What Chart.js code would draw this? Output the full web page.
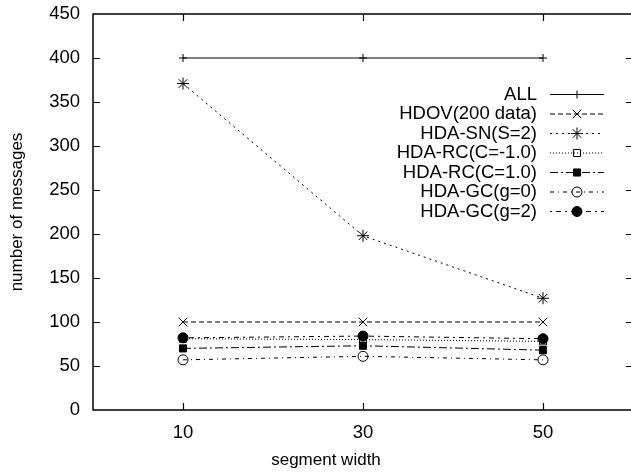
<!DOCTYPE html>
<html lang="en">
<head>
  <meta charset="UTF-8">
  <title>number of messages vs segment width</title>
  <style>
    html, body { margin: 0; padding: 0; background: #fff; overflow: hidden; }
    #wrap { width: 640px; height: 472px; }
  </style>
</head>
<body>
  <div id="wrap"><canvas id="myChart"></canvas></div>
  <script src="https://cdn.jsdelivr.net/npm/chart.js"></script>
  <script>
    // segment widths on the x axis
    const segWidths = [10, 30, 50]
    const xTicks = [10, 30, 50]

    const seriesNames = ['ALL', 'HDOV(200 data)', 'HDA-SN(S=2)', 'HDA-RC(C=-1.0)', 'HDA-RC(C=1.0)', 'HDA-GC(g=0)', 'HDA-GC(g=2)']
    const all = [400, 400, 400]
    const hdov = [100, 100, 100]
    const hdaSn = [371, 198, 127]
    const rcNeg = [81, 80, 78]
    const rcPos = [70, 73, 68]
    const gc0 = [57, 61, 57]
    const gc2 = [82, 84, 81]

    const FONT = '"Liberation Sans", Arial, Helvetica, sans-serif'

    const mk = (label, values, dash, pointStyle, fill, radius) => ({
      label,
      data: values.map((v, i) => ({ x: segWidths[i], y: v })),
      borderColor: '#000',
      borderWidth: 1,
      borderDash: dash,
      pointStyle,
      pointRadius: radius,
      pointBorderWidth: 1,
      pointBorderColor: '#000',
      pointBackgroundColor: fill,
      fill: false,
      tension: 0
    })

    const datasets = [
      mk(seriesNames[0], all, [], 'cross', '#000', 4),
      mk(seriesNames[1], hdov, [5, 3], 'crossRot', '#000', 6),
      mk(seriesNames[2], hdaSn, [2, 4], 'star', '#000', 6),
      mk(seriesNames[3], rcNeg, [1, 2], 'rect', 'rgba(255,255,255,0)', 5),
      mk(seriesNames[4], rcPos, [8, 3, 2, 3], 'rect', '#000', 5),
      mk(seriesNames[5], gc0, [4, 4, 1, 4], 'circle', 'rgba(255,255,255,0)', 5),
      mk(seriesNames[6], gc2, [2, 4, 5, 4], 'circle', '#000', 5)
    ]

    // box, inward ticks (gnuplot style), x label and the key
    const frame = {
      id: 'frame',
      afterDraw(chart) {
        const { ctx, chartArea: a, scales } = chart
        ctx.save()
        ctx.strokeStyle = '#000'
        ctx.lineWidth = 1.5
        ctx.setLineDash([])
        ctx.strokeRect(a.left, a.top, a.right - a.left, a.bottom - a.top)
        ctx.lineWidth = 1.2
        ctx.beginPath()
        scales.y.ticks.forEach(t => {
          const y = Math.round(scales.y.getPixelForValue(t.value)) + 0.5
          if (t.value <= 0 || t.value >= 450) return
          ctx.moveTo(a.left, y); ctx.lineTo(a.left + 7, y)
          ctx.moveTo(a.right, y); ctx.lineTo(a.right - 7, y)
        })
        scales.x.ticks.forEach(t => {
          const x = Math.round(scales.x.getPixelForValue(t.value)) + 0.5
          ctx.moveTo(x, a.bottom); ctx.lineTo(x, a.bottom - 7)
          ctx.moveTo(x, a.top); ctx.lineTo(x, a.top + 7)
        })
        ctx.stroke()

        ctx.fillStyle = '#000'
        ctx.font = '17px ' + FONT
        ctx.textAlign = 'center'
        ctx.textBaseline = 'middle'
        ctx.fillText('segment width', 326, 460)

        // key
        ctx.font = '18.5px ' + FONT
        ctx.textAlign = 'right'
        chart.data.datasets.forEach((ds, i) => {
          const y = a.top + 80.5 + i * 19.5
          const tx = a.right - 96
          ctx.fillStyle = '#000'
          ctx.fillText(ds.label, tx, y)
          ctx.lineWidth = 1
          ctx.setLineDash(ds.borderDash)
          ctx.beginPath()
          ctx.moveTo(a.right - 83, y); ctx.lineTo(a.right - 29, y)
          ctx.stroke()
          ctx.setLineDash([])
          const opts = { pointStyle: ds.pointStyle, radius: ds.pointRadius, rotation: 0, borderWidth: 1 }
          ctx.fillStyle = ds.pointBackgroundColor
          ctx.strokeStyle = '#000'
          if (Chart.helpers && Chart.helpers.drawPoint) {
            Chart.helpers.drawPoint(ctx, opts, a.right - 56, y)
          }
        })
        ctx.restore()
      }
    }

    const ctx = document.getElementById('myChart')

    new Chart(ctx, {
      type: 'line',
      data: { datasets },
      options: {
        responsive: true,
        maintainAspectRatio: false,
        animation: false,
        layout: { padding: { top: 14, right: 7, left: 0, bottom: 0 } },
        plugins: {
          legend: { display: false },
          tooltip: { enabled: false }
        },
        scales: {
          x: {
            type: 'linear',
            min: 0,
            max: 60,
            afterBuildTicks: s => { s.ticks = xTicks.map(v => ({ value: v })) },
            afterFit: s => { s.height = 62; s.paddingLeft = 0; s.paddingRight = 0 },
            grid: { display: false, drawTicks: false },
            border: { display: false },
            ticks: { color: '#000', padding: 12, font: { family: FONT, size: 18.5 } }
          },
          y: {
            min: 0,
            max: 450,
            afterFit: s => { s.width = 93; s.paddingTop = 0; s.paddingBottom = 0 },
            grid: { display: false, drawTicks: false },
            border: { display: false },
            ticks: { stepSize: 50, color: '#000', padding: 13, font: { family: FONT, size: 18.5 } },
            title: { display: true, text: 'number of messages', color: '#000', padding: { top: 7, bottom: 0 }, font: { family: FONT, size: 17 } }
          }
        }
      },
      plugins: [frame]
    })
  </script>
</body>
</html>
